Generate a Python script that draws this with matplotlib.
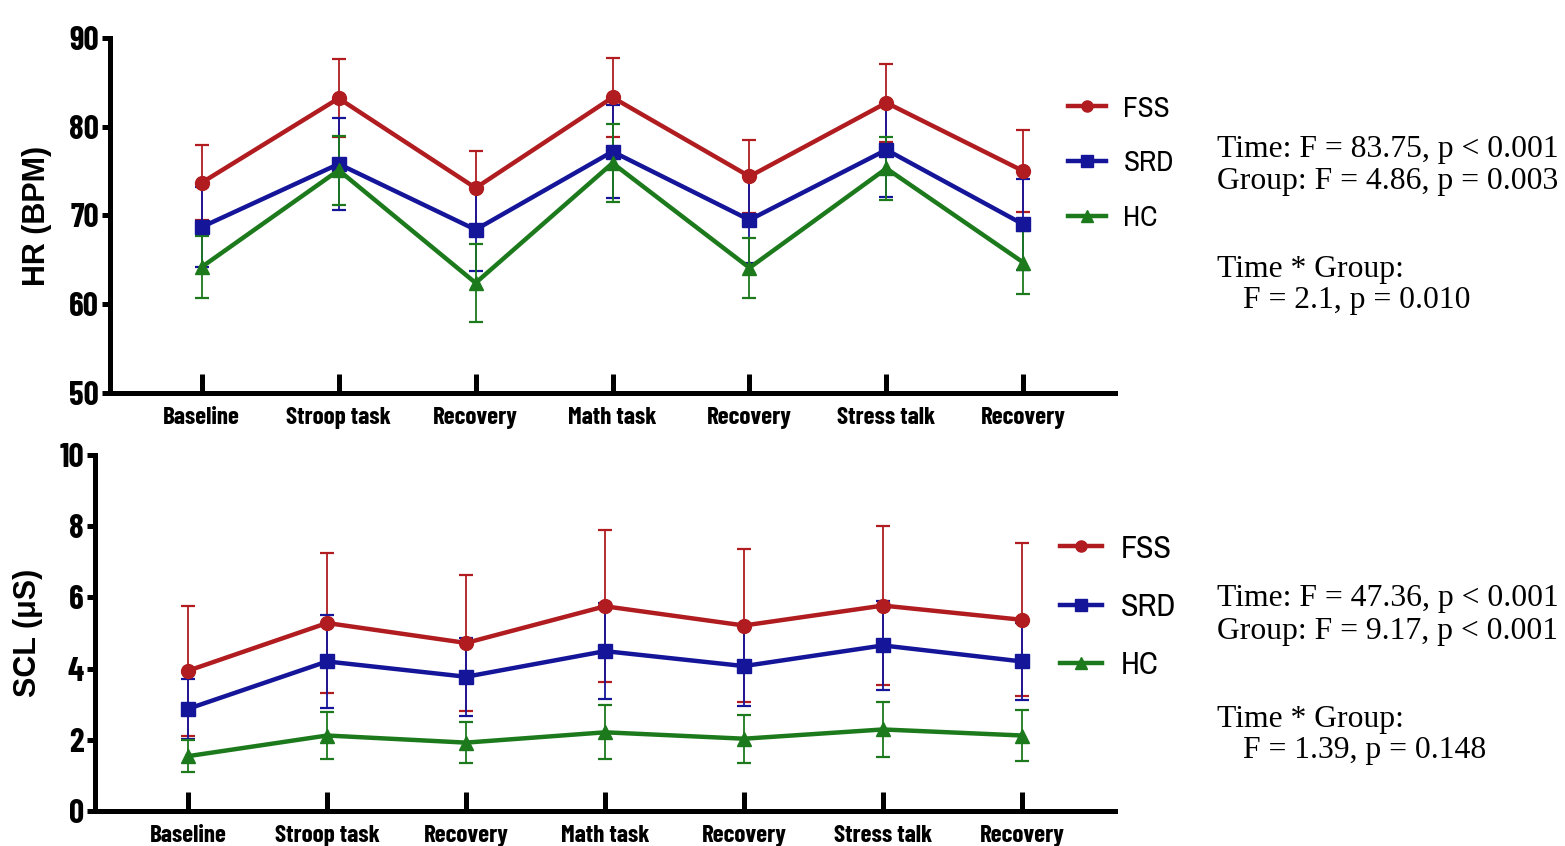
"""HR and SCL across the stress protocol, FSS vs SRD vs HC (mean +/- SD)."""

import matplotlib

matplotlib.use("Agg")
import matplotlib.pyplot as plt
import numpy as np

PHASES = ["Baseline", "Stroop task", "Recovery", "Math task",
          "Recovery", "Stress talk", "Recovery"]
GROUPS = ["FSS", "SRD", "HC"]

# heart rate (BPM), mean and SD per phase
hr_fss = [73.7, 83.2, 73.1, 83.3, 74.4, 82.7, 75.0]
hr_fss_sd = [4.2, 4.4, 4.2, 4.5, 4.1, 4.4, 4.6]
hr_srd = [68.7, 75.8, 68.4, 77.2, 69.5, 77.4, 69.0]
hr_srd_sd = [4.5, 5.2, 4.7, 5.2, 4.9, 5.3, 5.1]
hr_hc = [64.2, 75.1, 62.4, 75.9, 64.1, 75.3, 64.7]
hr_hc_sd = [3.5, 3.9, 4.4, 4.4, 3.4, 3.5, 3.6]

# skin conductance level (uS)
scl_fss = [3.94, 5.28, 4.72, 5.75, 5.21, 5.77, 5.37]
scl_fss_sd = [1.83, 1.98, 1.91, 2.14, 2.14, 2.24, 2.15]
scl_srd = [2.87, 4.20, 3.77, 4.49, 4.07, 4.65, 4.20]
scl_srd_sd = [0.85, 1.31, 1.10, 1.34, 1.13, 1.25, 1.07]
scl_hc = [1.54, 2.12, 1.92, 2.21, 2.03, 2.29, 2.12]
scl_hc_sd = [0.45, 0.67, 0.58, 0.76, 0.68, 0.78, 0.71]

hr_stats = ["Time: F = 83.75, p < 0.001", "Group: F = 4.86, p = 0.003",
            "Time * Group:", "F = 2.1, p = 0.010"]
scl_stats = ["Time: F = 47.36, p < 0.001", "Group: F = 9.17, p < 0.001",
             "Time * Group:", "F = 1.39, p = 0.148"]

COLORS = ["#b01c1f", "#15159a", "#1c7a1c"]
MARKERS = ["o", "s", "^"]
NARROW = ["Barlow Condensed", "DejaVu Sans"]
LEGEND_FONT = ["Archivo Narrow", "DejaVu Sans"]


def draw_panel(ax, series, ylim, yticks, ylabel):
    x = np.arange(len(PHASES))
    for (mean, sd), name, color, marker in zip(series, GROUPS, COLORS, MARKERS):
        ax.errorbar(x, mean, yerr=sd, color=color, lw=3.2, marker=marker,
                    ms=10, elinewidth=1.3, capsize=5, capthick=1.6, label=name)
    ax.set_xlim(-0.67, len(PHASES) - 0.33)
    ax.set_ylim(*ylim)
    ax.set_yticks(yticks)
    ax.set_xticks(x)
    ax.set_xticklabels(PHASES)
    for side in ["top", "right"]:
        ax.spines[side].set_visible(False)
    for side in ["left", "bottom"]:
        ax.spines[side].set_linewidth(3.6)
    ax.tick_params(axis="x", direction="in", length=14, width=3.6, pad=10)
    ax.tick_params(axis="y", direction="out", length=6, width=3.6, pad=2)
    for lab in ax.get_xticklabels():
        lab.set_fontfamily(NARROW)
        lab.set_fontweight("bold")
        lab.set_fontsize(18)
    for lab in ax.get_yticklabels():
        lab.set_fontfamily(NARROW)
        lab.set_fontweight("bold")
        lab.set_fontsize(24)
    ax.set_ylabel(ylabel, fontfamily="Liberation Sans", fontweight="bold",
                  fontsize=22, labelpad=12)


def main():
    fig = plt.figure(figsize=(15.65, 8.46), dpi=100)
    ax1 = fig.add_axes([0.0703, 0.5355, 0.6422, 0.4196])
    ax2 = fig.add_axes([0.0607, 0.0414, 0.6518, 0.4208])

    draw_panel(ax1, [(hr_fss, hr_fss_sd), (hr_srd, hr_srd_sd), (hr_hc, hr_hc_sd)],
               (50, 90), [50, 60, 70, 80, 90], "HR (BPM)")
    draw_panel(ax2, [(scl_fss, scl_fss_sd), (scl_srd, scl_srd_sd), (scl_hc, scl_hc_sd)],
               (0, 10), [0, 2, 4, 6, 8, 10], "SCL (μS)")

    for anchor, size, spacing in [((0.6824, 0.8075), 21, 0.95), ((0.6773, 0.2825), 23, 0.95)]:
        leg_handles = [plt.Line2D([], [], color=c, lw=3.2, marker=m, ms=8)
                       for c, m in zip(COLORS, MARKERS)]
        fig.legend(leg_handles, GROUPS, loc="center left", bbox_to_anchor=anchor,
                   frameon=False, borderpad=0, borderaxespad=0, handlelength=1.3,
                   handletextpad=0.6, labelspacing=spacing,
                   prop={"family": LEGEND_FONT, "size": size})

    # ANOVA results beside each panel
    for lines, ys in [(hr_stats, [0.823, 0.785, 0.681, 0.645]),
                      (scl_stats, [0.292, 0.254, 0.150, 0.113])]:
        for i, (txt, y) in enumerate(zip(lines, ys)):
            x = 0.7945 if i == 3 else 0.7776
            fig.text(x, y, txt, fontfamily="Liberation Serif", fontsize=22.8,
                     va="center", ha="left")

    fig.savefig("out.png", dpi=100)
    plt.close(fig)


if __name__ == "__main__":
    main()
